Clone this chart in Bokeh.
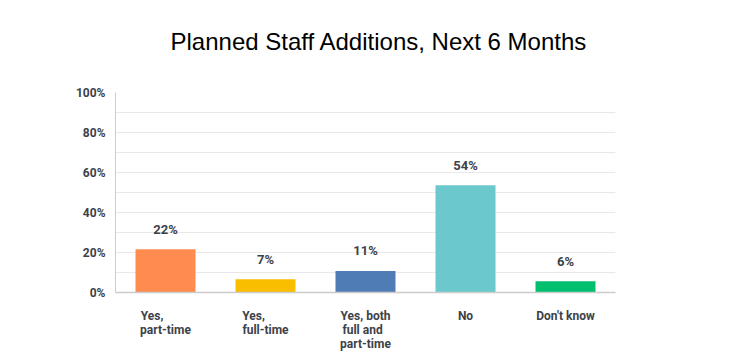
from bokeh.plotting import figure
from bokeh.models import ColumnDataSource, FactorRange, Range1d, FixedTicker, LabelSet, CustomJSTickFormatter, Title
from bokeh.core.properties import value
from bokeh.embed import file_html
from bokeh.resources import INLINE

# ---- data ----
# category texts as shown under the bars (short lines padded so each block reads left-aligned)
categories = ["Yes,         \npart-time", "Yes,        \nfull-time", "Yes, both\nfull and  \npart-time", "No", "Don't know"]
values = [21.6, 6.6, 10.8, 53.6, 5.6]
value_labels = ["22%", "7%", "11%", "54%", "6%"]
colors = ["#FF8B4F", "#F9BE00", "#507CB6", "#6BC8CD", "#00BF6F"]
y_ticks = [0, 20, 40, 60, 80, 100]
grid_ticks = [10, 20, 30, 40, 50, 60, 70, 80, 90]

TEXT = "#3d4148"
FONT = "Roboto"

src = ColumnDataSource(dict(cat=categories, val=values, lab=value_labels, color=colors))

p = figure(width=720, height=356, x_range=FactorRange(*categories, range_padding=0),
           y_range=Range1d(0, 100), output_backend="svg", toolbar_location=None,
           min_border_left=115, min_border_right=105, min_border_top=92, min_border_bottom=64)
p.outline_line_color = None
p.background_fill_color = "white"
p.border_fill_color = "white"

# blank spacer between the frame and the main title
p.add_layout(Title(text=" ", text_font_size="1px", standoff=30), "above")

p.title.text = "Planned Staff Additions, Next 6 Months"
p.title.align = "left"
p.title.offset = 55
p.title.text_font = "Liberation Sans"
p.title.text_font_size = "24px"
p.title.text_font_style = "normal"
p.title.text_color = "#000000"
p.title.standoff = 10

p.vbar(x="cat", top="val", width=0.6, color="color", line_color=None, source=src)

p.add_layout(LabelSet(x="cat", y="val", text="lab", source=src, text_align="center",
                      text_baseline="middle", y_offset=20, text_font=value(FONT),
                      text_font_style="bold", text_font_size="13px", text_color=TEXT))

p.xaxis.major_label_standoff = 10
p.xaxis.major_label_text_font = FONT
p.xaxis.major_label_text_font_style = "bold"
p.xaxis.major_label_text_font_size = "12px"
p.xaxis.major_label_text_color = TEXT
p.xaxis.major_label_text_line_height = 1.0
p.xaxis.major_tick_line_color = None
p.xaxis.minor_tick_line_color = None
p.xaxis.axis_line_color = "#cccccc"
p.xaxis.axis_line_width = 1.5

p.yaxis.ticker = FixedTicker(ticks=y_ticks)
p.yaxis.formatter = CustomJSTickFormatter(code="return tick + '%';")
p.yaxis.major_tick_line_color = None
p.yaxis.minor_tick_line_color = None
p.yaxis.axis_line_color = "#cccccc"
p.yaxis.axis_line_width = 1
p.yaxis.major_label_standoff = 4
p.yaxis.major_label_text_font = FONT
p.yaxis.major_label_text_font_style = "bold"
p.yaxis.major_label_text_font_size = "12px"
p.yaxis.major_label_text_color = TEXT

p.xgrid.grid_line_color = None
p.ygrid.ticker = FixedTicker(ticks=grid_ticks)
p.ygrid.grid_line_color = "#e8e8e8"
p.ygrid.grid_line_width = 1

open("out.html", "w").write(file_html(p, INLINE))
